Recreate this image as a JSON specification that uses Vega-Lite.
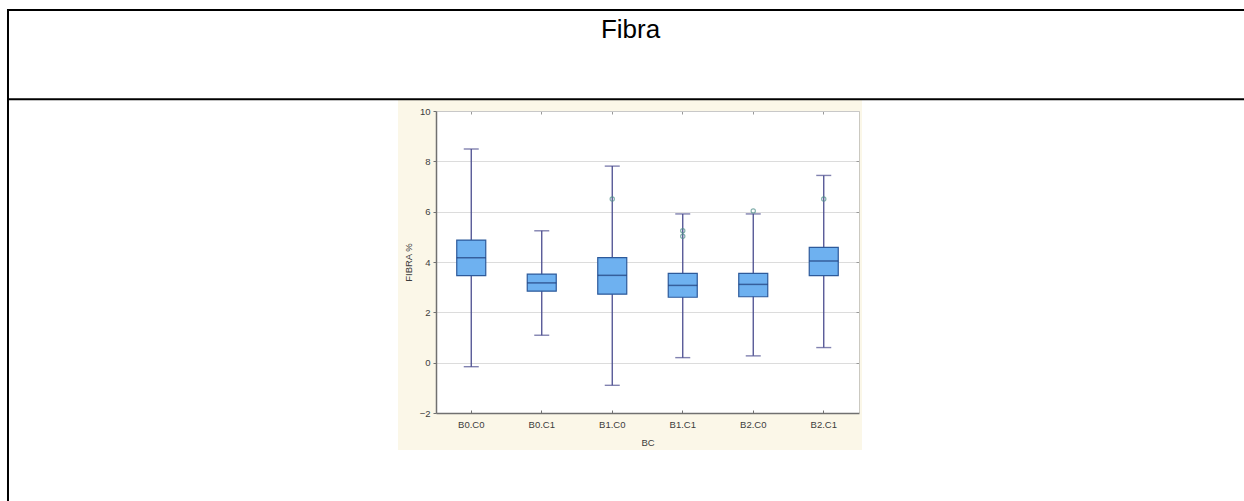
{
  "$schema": "https://vega.github.io/schema/vega-lite/v6.json",
  "width": 423,
  "height": 302,
  "autosize": {"type": "none"},
  "padding": {"left": 436, "top": 111, "right": 385, "bottom": 88},
  "background": "white",
  "config": {"view": {"stroke": null, "fill": "white"}, "font": "Liberation Sans"},
  "resolve": {"scale": {"x": "independent", "y": "independent"}},
  "layer": [
    {
      "data": {"values": [{"cell": "Fibra"}]},
      "layer": [
        {
          "mark": {"type": "rect", "color": "#fbf7e8", "clip": false},
          "encoding": {
            "x": {"datum": -0.539, "type": "quantitative", "scale": {"domain": [0, 6], "nice": false, "zero": false}, "axis": null},
            "x2": {"datum": 6.043},
            "y": {"datum": 10, "type": "quantitative", "scale": {"domain": [-2, 10], "nice": false, "zero": false}, "axis": null},
            "y2": {"datum": 10.437}
          }
        },
        {
          "mark": {"type": "rect", "color": "#fbf7e8", "clip": false},
          "encoding": {
            "x": {"datum": -0.539, "type": "quantitative", "scale": {"domain": [0, 6], "nice": false, "zero": false}, "axis": null},
            "x2": {"datum": 6.043},
            "y": {"datum": -3.47, "type": "quantitative", "scale": {"domain": [-2, 10], "nice": false, "zero": false}, "axis": null},
            "y2": {"datum": -2}
          }
        },
        {
          "mark": {"type": "rect", "color": "#fbf7e8", "clip": false},
          "encoding": {
            "x": {"datum": -0.539, "type": "quantitative", "scale": {"domain": [0, 6], "nice": false, "zero": false}, "axis": null},
            "x2": {"datum": 0},
            "y": {"datum": -2, "type": "quantitative", "scale": {"domain": [-2, 10], "nice": false, "zero": false}, "axis": null},
            "y2": {"datum": 10}
          }
        },
        {
          "mark": {"type": "rect", "color": "#fbf7e8", "clip": false},
          "encoding": {
            "x": {"datum": 6.007, "type": "quantitative", "scale": {"domain": [0, 6], "nice": false, "zero": false}, "axis": null},
            "x2": {"datum": 6.043},
            "y": {"datum": -2, "type": "quantitative", "scale": {"domain": [-2, 10], "nice": false, "zero": false}, "axis": null},
            "y2": {"datum": 10}
          }
        },
        {
          "mark": {"type": "rule", "color": "black", "strokeWidth": 2, "clip": false},
          "encoding": {
            "x": {"datum": -6.071, "type": "quantitative", "scale": {"domain": [0, 6], "nice": false, "zero": false}, "axis": null},
            "x2": {"datum": 12},
            "y": {"datum": 14.013, "type": "quantitative", "scale": {"domain": [-2, 10], "nice": false, "zero": false}, "axis": null}
          }
        },
        {
          "mark": {"type": "rule", "color": "black", "strokeWidth": 2, "clip": false},
          "encoding": {
            "x": {"datum": -6.071, "type": "quantitative", "scale": {"domain": [0, 6], "nice": false, "zero": false}, "axis": null},
            "x2": {"datum": 12},
            "y": {"datum": 10.469, "type": "quantitative", "scale": {"domain": [-2, 10], "nice": false, "zero": false}, "axis": null}
          }
        },
        {
          "mark": {"type": "rule", "color": "black", "strokeWidth": 2, "clip": false},
          "encoding": {
            "x": {"datum": -6.071, "type": "quantitative", "scale": {"domain": [0, 6], "nice": false, "zero": false}, "axis": null},
            "y": {"datum": 14.05, "type": "quantitative", "scale": {"domain": [-2, 10], "nice": false, "zero": false}, "axis": null},
            "y2": {"datum": -6}
          }
        },
        {
          "mark": {"type": "text", "fontSize": 26, "font": "Liberation Sans", "color": "black", "align": "center", "baseline": "alphabetic", "clip": false},
          "encoding": {
            "text": {"field": "cell", "type": "nominal"},
            "x": {"datum": 2.759, "type": "quantitative", "scale": {"domain": [0, 6], "nice": false, "zero": false}, "axis": null},
            "y": {"datum": 12.901, "type": "quantitative", "scale": {"domain": [-2, 10], "nice": false, "zero": false}, "axis": null}
          }
        }
      ]
    },
    {
      "data": {"values": [
        {"BC": "B0.C0", "min": -0.16, "q1": 3.46, "median": 4.17, "q3": 4.87, "max": 8.49},
        {"BC": "B0.C1", "min": 1.09, "q1": 2.84, "median": 3.17, "q3": 3.52, "max": 5.24},
        {"BC": "B1.C0", "min": -0.90, "q1": 2.72, "median": 3.47, "q3": 4.17, "max": 7.81},
        {"BC": "B1.C1", "min": 0.20, "q1": 2.60, "median": 3.07, "q3": 3.55, "max": 5.91},
        {"BC": "B2.C0", "min": 0.27, "q1": 2.62, "median": 3.11, "q3": 3.55, "max": 5.91},
        {"BC": "B2.C1", "min": 0.60, "q1": 3.46, "median": 4.04, "q3": 4.58, "max": 7.44}
      ]},
      "layer": [
        {
          "mark": {"type": "rule", "color": "#4b4d8f", "strokeWidth": 1.3},
          "encoding": {
            "x": {"field": "BC", "type": "nominal", "sort": null, "scale": {"paddingInner": 0, "paddingOuter": 0},
              "axis": {"orient": "bottom", "title": "BC", "labelAngle": 0, "domainColor": "#707070", "domainWidth": 1.5, "tickColor": "#707070", "tickSize": -3, "labelPadding": 9, "labelBaseline": "top", "labelFont": "Liberation Sans", "labelFontSize": 9.5, "labelColor": "#3c3c3c", "titleFont": "Liberation Sans", "titleFontSize": 9.5, "titleFontWeight": "normal", "titleColor": "#3c3c3c", "titleY": 32, "titleBaseline": "alphabetic", "zindex": 1}},
            "y": {"field": "min", "type": "quantitative", "scale": {"domain": [-2, 10], "nice": false, "zero": false},
              "axis": {"orient": "left", "title": "FIBRA %", "values": [-2, 0, 2, 4, 6, 8, 10], "grid": false, "domainColor": "#707070", "domainWidth": 1.5, "tickColor": "#707070", "tickSize": 3, "labelPadding": 3, "labelFont": "Liberation Sans", "labelFontSize": 9.5, "labelColor": "#3c3c3c", "titleFont": "Liberation Sans", "titleFontSize": 9.5, "titleFontWeight": "normal", "titleColor": "#3c3c3c", "titleX": -23, "titleY": 151, "titleAngle": -90, "titleBaseline": "bottom", "titleAlign": "center", "zindex": 1}},
            "y2": {"field": "max"}
          }
        },
        {
          "mark": {"type": "bar", "width": 29, "fill": "#6eb1f0", "stroke": "#2d5a9a", "strokeWidth": 1.2},
          "encoding": {
            "x": {"field": "BC", "type": "nominal", "sort": null, "scale": {"paddingInner": 0, "paddingOuter": 0},
              "axis": {"orient": "top", "title": null, "labels": false, "tickSize": -3, "tickColor": "#999999", "domainColor": "#c8c8c8", "zindex": 1}},
            "y": {"field": "q1", "type": "quantitative", "scale": {"domain": [-2, 10], "nice": false, "zero": false},
              "axis": {"orient": "right", "title": null, "labels": false, "values": [-2, 0, 2, 4, 6, 8, 10], "tickSize": -3, "tickColor": "#999999", "domainColor": "#9a9a9a", "grid": true, "gridColor": "#dcdcdc", "gridWidth": 1, "zindex": 0}},
            "y2": {"field": "q3"}
          }
        },
        {
          "mark": {"type": "tick", "size": 29, "thickness": 1.5, "color": "#1e3c78"},
          "encoding": {
            "x": {"field": "BC", "type": "nominal", "sort": null, "scale": {"paddingInner": 0, "paddingOuter": 0}, "axis": null},
            "y": {"field": "median", "type": "quantitative", "scale": {"domain": [-2, 10], "nice": false, "zero": false}, "axis": null}
          }
        },
        {
          "mark": {"type": "tick", "size": 15, "thickness": 1.4, "color": "#4b4d8f"},
          "encoding": {
            "x": {"field": "BC", "type": "nominal", "sort": null, "scale": {"paddingInner": 0, "paddingOuter": 0}, "axis": null},
            "y": {"field": "min", "type": "quantitative", "scale": {"domain": [-2, 10], "nice": false, "zero": false}, "axis": null}
          }
        },
        {
          "mark": {"type": "tick", "size": 15, "thickness": 1.4, "color": "#4b4d8f"},
          "encoding": {
            "x": {"field": "BC", "type": "nominal", "sort": null, "scale": {"paddingInner": 0, "paddingOuter": 0}, "axis": null},
            "y": {"field": "max", "type": "quantitative", "scale": {"domain": [-2, 10], "nice": false, "zero": false}, "axis": null}
          }
        },
        {
          "data": {"values": [
            {"BC": "B1.C0", "value": 6.50},
            {"BC": "B1.C1", "value": 5.24},
            {"BC": "B1.C1", "value": 5.02},
            {"BC": "B2.C0", "value": 6.03},
            {"BC": "B2.C1", "value": 6.50}
          ]},
          "mark": {"type": "point", "shape": "circle", "filled": false, "size": 18, "stroke": "#4f8f8a", "strokeWidth": 1.2},
          "encoding": {
            "x": {"field": "BC", "type": "nominal", "sort": null, "scale": {"paddingInner": 0, "paddingOuter": 0}, "axis": null},
            "y": {"field": "value", "type": "quantitative", "scale": {"domain": [-2, 10], "nice": false, "zero": false}, "axis": null}
          }
        }
      ]
    }
  ]
}
